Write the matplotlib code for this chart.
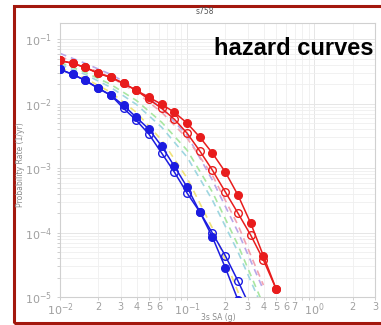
import numpy as np
import matplotlib.pyplot as plt
from matplotlib.patches import Rectangle
from matplotlib.ticker import LogLocator, FuncFormatter, NullFormatter

# ground motion levels (3s SA, g)
sa = [0.01, 0.0126, 0.0158, 0.02, 0.0251, 0.0316, 0.0398, 0.0501, 0.0631,
      0.0794, 0.1, 0.126, 0.158, 0.2, 0.251, 0.316, 0.398, 0.501]

red_filled = [0.0472, 0.0425, 0.0368, 0.0297, 0.0258, 0.0208, 0.0162, 0.0126, 0.00982,
              0.00738, 0.00499, 0.00303, 0.00171, 8.67e-4, 3.81e-4, 1.40e-4, 4.33e-5, 1.33e-5]
red_open = [0.0472, 0.0425, 0.0368, 0.0297, 0.0258, 0.0208, 0.0162, 0.0117, 0.00851,
            0.00575, 0.00349, 0.00184, 9.31e-4, 4.25e-4, 2.0e-4, 9.14e-5, 3.75e-5, 1.33e-5]

sa_blue = sa[:16]
blue_filled = [0.0343, 0.0286, 0.0231, 0.0174, 0.0136, 0.00948, 0.00618, 0.00403,
               0.00219, 0.00107, 5.07e-4, 2.08e-4, 8.51e-5, 2.82e-5, 8.97e-6, 3.0e-6]
blue_open = [0.0343, 0.0286, 0.0231, 0.0174, 0.0136, 0.00851, 0.00555, 0.00337,
             0.00171, 8.67e-4, 4.09e-4, 2.08e-4, 9.82e-5, 4.33e-5, 1.77e-5, 6.7e-6]

# dashed curves
sa_dash = [0.01, 0.0158, 0.0251, 0.0398, 0.0631, 0.1, 0.158, 0.251, 0.398]
dash_lavender = [0.0607, 0.0425, 0.0286, 0.0174, 0.00851, 0.00325, 6.52e-4, 1.02e-4, 1.29e-5]
dash_pink = [0.0544, 0.0381, 0.0258, 0.0151, 0.00738, 0.00292, 7.78e-4, 1.31e-4, 1.53e-5]
dash_green = [0.0439, 0.0308, 0.0200, 0.0113, 0.00516, 0.00190, 4.25e-4, 6.4e-5, 7.5e-6]
dash_cyan = [0.0409, 0.0286, 0.0180, 0.00982, 0.00432, 0.00148, 3.19e-4, 5.0e-5, 6.3e-6]
dash_yellow = [0.0368, 0.0248, 0.0151, 0.00738, 0.00272, 7.0e-4, 1.17e-4, 1.2e-5, 1.0e-6]

fig = plt.figure(figsize=(3.81, 3.25), dpi=100)
ax = fig.add_axes([60 / 381, 28 / 325, 315 / 381, 274 / 325])

dash_sets = [(dash_lavender, "#b9a7e8"), (dash_pink, "#f2a2b0"),
             (dash_green, "#a8e6a0"), (dash_cyan, "#9fd6e0"),
             (dash_yellow, "#f0e27a")]
for vals, col in dash_sets:
    ax.plot(sa_dash, vals, ls=(0, (4, 3)), color=col, lw=1.2, zorder=2)

red = "#e81c1c"
blue = "#1c1ce0"
ax.plot(sa, red_open, color=red, lw=1.1, marker="o", ms=5.5, mfc="none", mec=red, mew=1, zorder=3)
ax.plot(sa, red_filled, color=red, lw=1.1, marker="o", ms=5.5, mfc=red, mec=red, zorder=4)
ax.plot(sa_blue, blue_open, color=blue, lw=1.1, marker="o", ms=5.5, mfc="none", mec=blue, mew=1, zorder=3)
ax.plot(sa_blue, blue_filled, color=blue, lw=1.1, marker="o", ms=5.5, mfc=blue, mec=blue, zorder=4)

ax.set_xscale("log")
ax.set_yscale("log")
ax.set_xlim(0.01, 3)
ax.set_ylim(1e-5, 0.18)

ax.xaxis.set_minor_locator(LogLocator(base=10, subs=np.arange(2, 10)))
ax.yaxis.set_minor_locator(LogLocator(base=10, subs=np.arange(2, 10)))
ax.yaxis.set_minor_formatter(NullFormatter())

shown = {0.02, 0.03, 0.04, 0.05, 0.06, 0.2, 0.3, 0.4, 0.5, 0.6, 0.7, 2.0, 3.0}


def minor_fmt(v, pos):
    r = float(f"{v:.3g}")
    if r in shown:
        return f"{r / 10 ** np.floor(np.log10(r) + 1e-9):.0f}"
    return ""


ax.xaxis.set_minor_formatter(FuncFormatter(minor_fmt))

ax.grid(True, which="major", color="#e6e6e6", lw=0.7)
ax.grid(True, which="minor", color="#efefef", lw=0.6)
ax.set_axisbelow(True)
for s in ax.spines.values():
    s.set_color("#d0d0d0")
    s.set_linewidth(0.8)
ax.tick_params(which="both", colors="#c8c8c8", labelcolor="#a0a0a0", length=2, width=0.6)
ax.tick_params(axis="x", which="both", pad=1.5)
ax.tick_params(which="major", labelsize=8)
ax.tick_params(which="minor", labelsize=7)

fig.text(218 / 381, 1 - 317 / 325, "3s SA (g)", fontsize=5.5, color="#8a8a8a",
         ha="center", va="center")
fig.text(21 / 381, 160 / 325, "Probability Rate (1/yr)", rotation=90, fontsize=5.5,
         color="#8a8a8a", ha="center", va="center")
fig.text(205 / 381, 1 - 12 / 325, "s758", fontsize=5.5, color="#555555", ha="center", va="center")

fig.text(373 / 381, 1 - 55 / 325, "hazard curves", fontsize=17, fontweight="bold",
         family="Liberation Sans", color="black", ha="right", va="baseline")

# dark red frame, right side runs off the picture
fig.patches.append(Rectangle((14 / 381, 2 / 325), 1.0, 317.5 / 325, transform=fig.transFigure,
                             fill=False, edgecolor="#a3180e", lw=2.2))

fig.savefig("out.png", dpi=100)
